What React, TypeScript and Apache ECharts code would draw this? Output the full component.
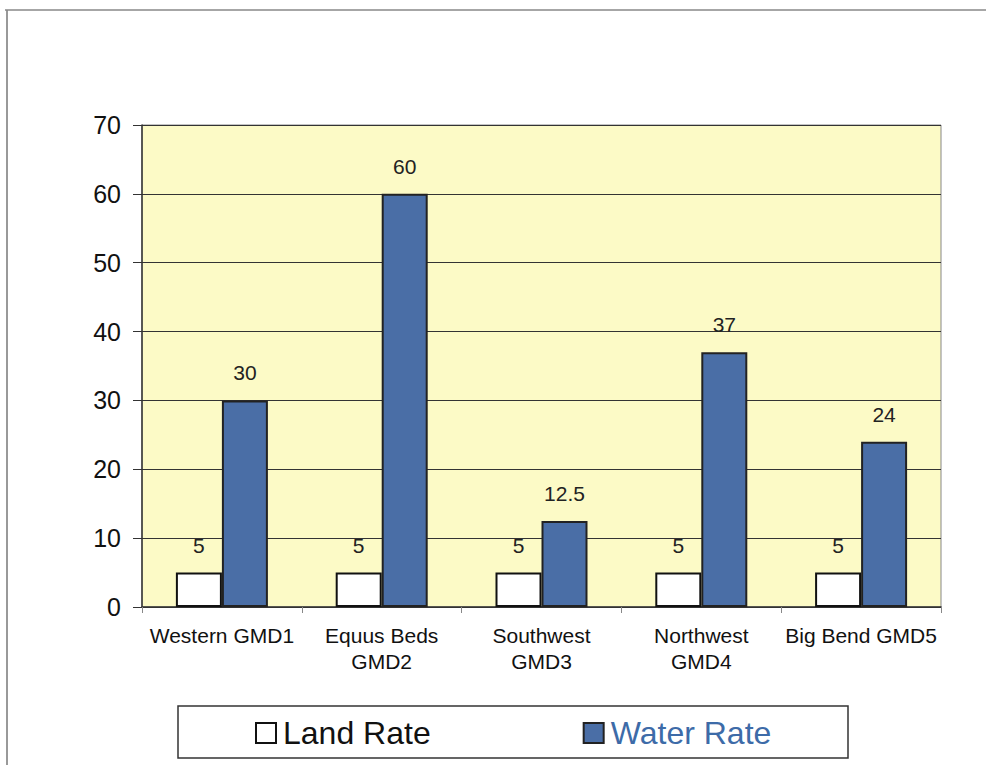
import React, { useEffect, useRef } from "react";
import * as echarts from "echarts";

const categories = [
  "Western GMD1",
  "Equus Beds\nGMD2",
  "Southwest\nGMD3",
  "Northwest\nGMD4",
  "Big Bend GMD5",
];
const landRate = [5, 5, 5, 5, 5];
const waterRate = [30, 60, 12.5, 37, 24];
const seriesNames = ["Land Rate", "Water Rate"];

const FONT = "Liberation Sans, Arial, sans-serif";

export default function App() {
  const ref = useRef<HTMLDivElement>(null);
  useEffect(() => {
    if (!ref.current) return;
    const chart = echarts.init(ref.current, null, { renderer: "svg" });
    const valueLabel = {
      show: true,
      position: "top",
      distance: 17,
      fontFamily: FONT,
      fontSize: 21,
      lineHeight: 21,
      color: "#222",
    };
    chart.setOption({
      animation: false,
      backgroundColor: "#ffffff",
      grid: {
        left: 142,
        top: 125,
        right: 45,
        bottom: 158,
        show: true,
        backgroundColor: "#fcfac6",
        borderColor: "#888",
        borderWidth: 1,
      },
      legend: {
        left: 255,
        top: 717,
        padding: 0,
        itemGap: 152,
        itemWidth: 20,
        itemHeight: 20,
        icon: "rect",
        textStyle: { fontFamily: FONT, fontSize: 32, padding: [0, 0, 0, 2] },
        data: [
          {
            name: seriesNames[0],
            textStyle: { color: "#111" },
            itemStyle: { color: "#ffffff", borderColor: "#111", borderWidth: 2 },
          },
          {
            name: seriesNames[1],
            textStyle: { color: "#3d6ba8" },
            itemStyle: { color: "#4a6ea6", borderColor: "#222", borderWidth: 2 },
          },
        ],
      },
      xAxis: {
        type: "category",
        data: categories,
        axisLine: { lineStyle: { color: "#333", width: 1.5 } },
        axisTick: { show: true, length: 6, lineStyle: { color: "#888" } },
        axisLabel: {
          interval: 0,
          margin: 15,
          fontFamily: FONT,
          fontSize: 21,
          lineHeight: 26,
          color: "#111",
        },
      },
      yAxis: {
        type: "value",
        min: 0,
        max: 70,
        interval: 10,
        axisLine: { show: true, lineStyle: { color: "#333", width: 1.5 } },
        axisTick: { show: true, length: 9, lineStyle: { color: "#333" } },
        axisLabel: {
          margin: 21,
          fontFamily: FONT,
          fontSize: 25,
          color: "#111",
        },
        splitLine: { show: true, lineStyle: { color: "#333", width: 1 } },
      },
      series: [
        {
          name: seriesNames[0],
          type: "bar",
          data: landRate,
          barWidth: 46,
          barGap: "0%",
          itemStyle: { color: "#ffffff", borderColor: "#111", borderWidth: 2 },
          label: valueLabel,
        },
        {
          name: seriesNames[1],
          type: "bar",
          data: waterRate,
          barWidth: 46,
          barGap: "0%",
          itemStyle: { color: "#4a6ea6", borderColor: "#222", borderWidth: 2 },
          label: valueLabel,
        },
      ],
      graphic: [
        {
          type: "line",
          shape: { x1: 7, y1: 10, x2: 7, y2: 765 },
          style: { stroke: "#777", lineWidth: 1.5 },
        },
        {
          type: "line",
          shape: { x1: 5, y1: 10, x2: 986, y2: 10 },
          style: { stroke: "#888", lineWidth: 1.5 },
        },
        {
          type: "rect",
          shape: { x: 178, y: 706, width: 670, height: 52 },
          style: { fill: "transparent", stroke: "#333", lineWidth: 1.5 },
          z: -1,
        },
      ],
    });
    return () => chart.dispose();
  }, []);
  return (
    <div
      ref={ref}
      style={{ position: "fixed", left: 0, top: 0, width: 986, height: 765, background: "#fff" }}
    />
  );
}
